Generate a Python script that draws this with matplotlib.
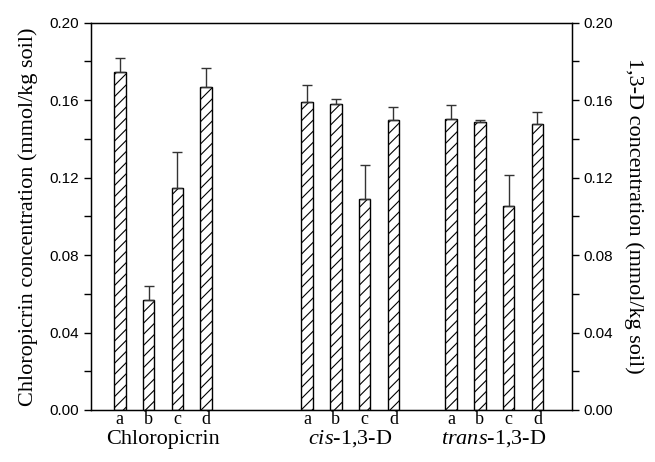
import matplotlib
matplotlib.use("Agg")
import matplotlib.pyplot as plt
import matplotlib.transforms as mtransforms
import numpy as np

groups = ["Chloropicrin", "cis-1,3-D", "trans-1,3-D"]
letters = ["a", "b", "c", "d"]
chloropicrin_vals = [0.1745, 0.0568, 0.1148, 0.1670]
chloropicrin_err = [0.0075, 0.0071, 0.0186, 0.0096]
cis_vals = [0.1590, 0.1580, 0.1088, 0.1497]
cis_err = [0.0090, 0.0024, 0.0177, 0.0068]
trans_vals = [0.1503, 0.1486, 0.1053, 0.1479]
trans_err = [0.0074, 0.0014, 0.0159, 0.0058]
yticks = [0.00, 0.04, 0.08, 0.12, 0.16, 0.20]

serif = ["Liberation Serif", "DejaVu Serif"]
sans = ["Liberation Sans", "DejaVu Sans"]
plt.rcParams['hatch.linewidth'] = 0.8
plt.rcParams['mathtext.fontset'] = 'custom'
plt.rcParams['mathtext.rm'] = 'Liberation Serif'
plt.rcParams['mathtext.it'] = 'Liberation Serif:italic'

fig = plt.figure(figsize=(6.55, 4.62), dpi=100)
ax = fig.add_axes([0.1389, 0.1126, 0.7344, 0.8383])

starts = [0.0, 6.5, 11.5]
all_vals = [chloropicrin_vals, cis_vals, trans_vals]
all_err = [chloropicrin_err, cis_err, trans_err]
xs_all = []
for s, vals, errs in zip(starts, all_vals, all_err):
    xs = np.arange(len(vals)) + s
    xs_all.extend(xs)
    ax.bar(xs, vals, width=0.4, color="white", edgecolor="black",
           linewidth=1.0, hatch="///", zorder=2)
    ax.errorbar(xs, vals, yerr=[np.zeros(len(errs)), errs], fmt="none",
                ecolor="#333333", elinewidth=1.0, capsize=3.5, capthick=1.0,
                zorder=3)

ax.set_xlim(-1.0, 15.7)
ax.set_ylim(0, 0.20)
ax.set_yticks(yticks)
ax.set_yticks(np.arange(0.02, 0.20, 0.04), minor=True)
ax.set_yticklabels([f"{v:.2f}" for v in yticks], fontfamily=sans, fontsize=11)
ax.tick_params(axis="y", which="major", direction="out", length=5, width=1)
ax.tick_params(axis="y", which="minor", direction="out", length=5, width=1)
ax.set_xticks(xs_all)
ax.set_xticklabels(letters * 3, fontfamily=serif, fontsize=13)
ax.tick_params(axis="x", length=0, pad=1)
for sp in ax.spines.values():
    sp.set_linewidth(1.0)

ax.set_ylabel("Chloropicrin concentration (mmol/kg soil)", fontfamily=serif,
              fontsize=16, labelpad=8)

ax2 = ax.twinx()
ax2.set_ylim(0, 0.20)
ax2.set_yticks(yticks)
ax2.set_yticks(np.arange(0.02, 0.20, 0.04), minor=True)
ax2.set_yticklabels([f"{v:.2f}" for v in yticks], fontfamily=sans, fontsize=11)
ax2.tick_params(axis="y", which="both", direction="out", length=5, width=1)
ax2.set_ylabel("1,3-D concentration (mmol/kg soil)", fontfamily=serif,
               fontsize=16, rotation=270, labelpad=22)

trans = mtransforms.blended_transform_factory(ax.transData, ax.transAxes)
centers = [s + 1.5 for s in starts]
label_texts = ["Chloropicrin", r"$\mathit{cis}$-1,3-D", r"$\mathit{trans}$-1,3-D"]
for c, t in zip(centers, label_texts):
    ax.text(c, -0.075, t, transform=trans, ha="center", va="center",
            fontfamily=serif, fontsize=16)

fig.savefig("out.png", dpi=100)
